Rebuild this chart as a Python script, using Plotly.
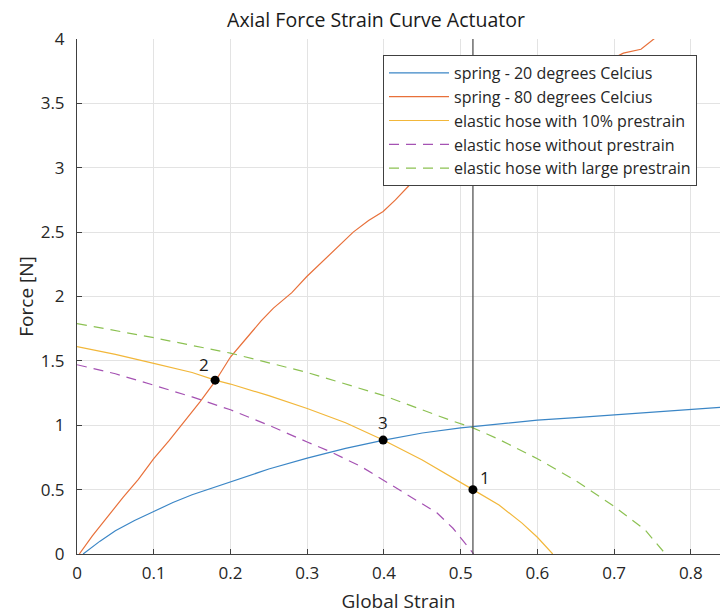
import plotly.graph_objects as go

# ---- data ----
spring20_x = [0.008, 0.03, 0.05, 0.075, 0.1, 0.125, 0.15, 0.175, 0.2, 0.25, 0.3, 0.35, 0.4, 0.45, 0.5, 0.55, 0.6, 0.65, 0.7, 0.75, 0.8, 0.84]
spring20_y = [0.0, 0.10, 0.18, 0.26, 0.33, 0.40, 0.46, 0.51, 0.56, 0.66, 0.745, 0.82, 0.885, 0.94, 0.98, 1.01, 1.04, 1.06, 1.08, 1.10, 1.12, 1.14]

spring80_x = [0.003, 0.02, 0.04, 0.06, 0.08, 0.1, 0.12, 0.14, 0.16, 0.18, 0.2, 0.22, 0.24, 0.256, 0.28, 0.2995, 0.32, 0.34, 0.36, 0.38, 0.399, 0.415, 0.434, 0.5, 0.6, 0.66, 0.712, 0.735, 0.756]
spring80_y = [0.0, 0.14, 0.29, 0.44, 0.58, 0.74, 0.88, 1.03, 1.18, 1.34, 1.53, 1.67, 1.81, 1.91, 2.03, 2.155, 2.27, 2.39, 2.50, 2.59, 2.66, 2.75, 2.87, 3.20, 3.56, 3.73, 3.89, 3.92, 4.02]

hose10_x = [0.0, 0.05, 0.1, 0.15, 0.18, 0.2, 0.25, 0.3, 0.35, 0.399, 0.45, 0.5, 0.516, 0.55, 0.58, 0.6, 0.62]
hose10_y = [1.61, 1.55, 1.48, 1.41, 1.35, 1.32, 1.23, 1.13, 1.02, 0.885, 0.73, 0.56, 0.50, 0.38, 0.24, 0.13, 0.0]

hose0_x = [0.0, 0.05, 0.095, 0.15, 0.2, 0.25, 0.3, 0.33, 0.37, 0.4, 0.44, 0.469, 0.49, 0.517]
hose0_y = [1.47, 1.40, 1.32, 1.22, 1.12, 1.00, 0.87, 0.795, 0.68, 0.57, 0.43, 0.32, 0.20, 0.0]

hoseL_x = [0.0, 0.1, 0.2, 0.3, 0.4, 0.486, 0.516, 0.55, 0.6, 0.65, 0.7, 0.74, 0.767]
hoseL_y = [1.79, 1.68, 1.56, 1.41, 1.23, 1.04, 0.98, 0.89, 0.74, 0.57, 0.37, 0.19, 0.0]

pts_x = [0.516, 0.180, 0.399]
pts_y = [0.50, 1.35, 0.885]
pts_lbl = ["1", "2", "3"]
vline_x = 0.516

names = ["spring - 20 degrees Celcius", "spring - 80 degrees Celcius",
         "elastic hose with 10% prestrain", "elastic hose without prestrain",
         "elastic hose with large prestrain"]
colors = ["#3b86c6", "#e8703a", "#f2b73a", "#a552b3", "#8cc152"]

fig = go.Figure()
series = [(spring20_x, spring20_y, "solid"), (spring80_x, spring80_y, "solid"),
          (hose10_x, hose10_y, "solid"), (hose0_x, hose0_y, "10px,7px"),
          (hoseL_x, hoseL_y, "10px,7px")]
for i, (xs, ys, d) in enumerate(series):
    fig.add_trace(go.Scatter(x=xs, y=ys, mode="lines", name=names[i], legendgroup=str(i),
                             line=dict(color=colors[i], width=1.2, dash=d)))

fig.add_trace(go.Scatter(x=[vline_x, vline_x], y=[0, 4], mode="lines", showlegend=False,
                         line=dict(color="#555555", width=1.3)))
fig.add_trace(go.Scatter(x=pts_x, y=pts_y, mode="markers", showlegend=False,
                         marker=dict(color="black", size=9)))

offs = [(12, -12), (-11, -16), (0, -18)]
for x, y, t, (ax, ay) in zip(pts_x, pts_y, pts_lbl, offs):
    fig.add_annotation(x=x, y=y, text=t, showarrow=False, xshift=ax, yshift=-ay,
                       font=dict(size=17, color="#1a1a1a"))

axis_common = dict(showline=True, linecolor="#404040", linewidth=1, ticks="inside", ticklen=5,
                   tickcolor="#404040", showgrid=True, gridcolor="#e3e3e3", gridwidth=1,
                   zeroline=False, tickfont=dict(size=17, color="#262626"))
fig.update_xaxes(range=[0, 0.838], dtick=0.1, tick0=0, ticklabelstandoff=4,
                 title=dict(text="Global Strain", font=dict(size=19, color="#262626"), standoff=12),
                 **axis_common)
fig.update_yaxes(range=[0, 4], dtick=0.5, tick0=0, ticklabelstandoff=8,
                 title=dict(text="Force [N]", font=dict(size=19, color="#262626"), standoff=2),
                 **axis_common)

fig.update_layout(
    width=720, height=614,
    margin=dict(l=77, r=0, t=39, b=60),
    paper_bgcolor="white", plot_bgcolor="white",
    font=dict(family="Open Sans", color="#262626"),
    title=dict(text="Axial Force Strain Curve Actuator", x=376/720, xanchor="center",
               y=1 - 20/614, yanchor="middle", font=dict(size=19.5, color="#1a1a1a")),
    legend=dict(x=(383-77)/643, y=(554-55)/515, xanchor="left", yanchor="top",
                bgcolor="white", bordercolor="#404040", borderwidth=1,
                font=dict(size=16, color="#262626"), tracegroupgap=0, itemwidth=60),
)

fig.write_html("out.html")
